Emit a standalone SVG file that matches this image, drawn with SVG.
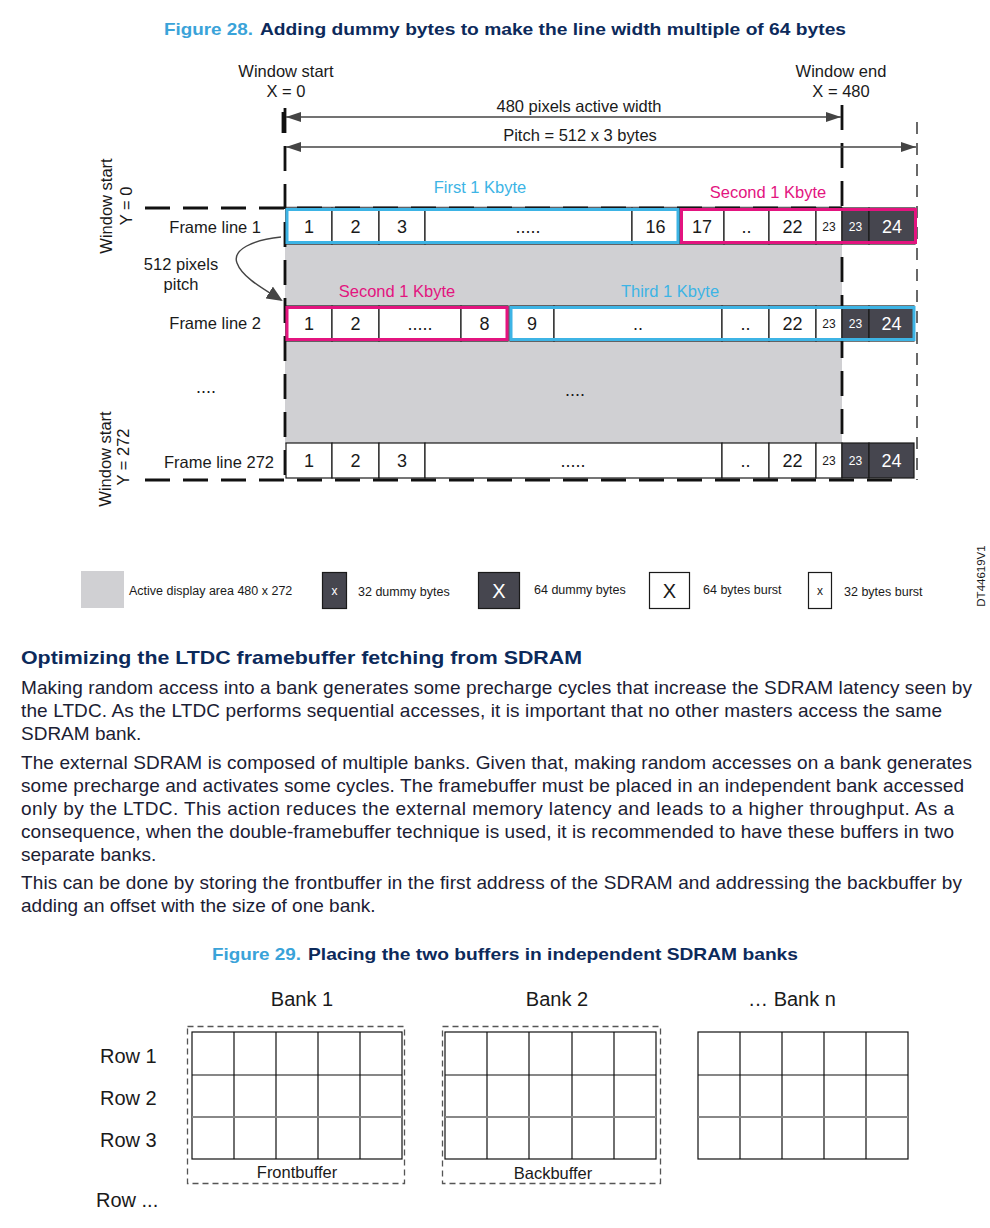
<svg xmlns="http://www.w3.org/2000/svg" width="990" height="1228" viewBox="0 0 990 1228">
<defs>
<style>
text{font-family:"Liberation Sans",Arial,sans-serif;fill:#1a1a1a}
.lbl{font-size:16.5px}
.mid{text-anchor:middle}
.end{text-anchor:end}
.num{font-size:18px;text-anchor:middle}
.sm{font-size:12px;text-anchor:middle}
.w{fill:#fff}
.cell{fill:#fff;stroke:#1a1a1a;stroke-width:1.2}
.dark{fill:#46464f;stroke:#1a1a1a;stroke-width:1.2}
.blue{fill:none;stroke:#3db4e5;stroke-width:3}
.pink{fill:none;stroke:#e3147f;stroke-width:3}
.tb{fill:#3db4e5;font-size:16.5px;text-anchor:middle}
.tp{fill:#e3147f;font-size:16.5px;text-anchor:middle}
.dash{stroke:#111;stroke-width:2.8;stroke-dasharray:25 13;fill:none}
.thin{stroke:#444;stroke-width:1.6;stroke-dasharray:12 9;fill:none}
.arr{stroke:#444;stroke-width:1.4;fill:none}
.leg{font-size:12.5px}
.ftb{font-weight:bold;font-size:17px;fill:#3aa3d9}
.ftn{font-weight:bold;font-size:17px;fill:#0c2a5b}
.par{font-size:19px;fill:#1b2033}
.hd{font-size:19px;font-weight:bold;fill:#0c2a5b}
.grid{fill:#fff;stroke:#111;stroke-width:1.2}
.gl{stroke:#111;stroke-width:1.2}
.bdash{fill:none;stroke:#555;stroke-width:1.3;stroke-dasharray:6 4}
.big{font-size:20px}
</style>
<marker id="ah" viewBox="0 0 15 10" refX="15" refY="5" markerWidth="15" markerHeight="10" markerUnits="userSpaceOnUse" orient="auto-start-reverse"><path d="M0,0 L15,5 L0,10 z" fill="#444"/></marker>
<marker id="ahc" viewBox="0 0 16 14" refX="14" refY="7" markerWidth="16" markerHeight="14" markerUnits="userSpaceOnUse" orient="auto"><path d="M0,0 L16,7 L0,14 z" fill="#444"/></marker>
</defs>
<rect width="990" height="1228" fill="#fff"/>

<g id="fig28-title">
<text x="164" y="35" class="ftb" textLength="89" lengthAdjust="spacingAndGlyphs">Figure 28.</text>
<text x="260" y="35" class="ftn" textLength="586" lengthAdjust="spacingAndGlyphs">Adding dummy bytes to make the line width multiple of 64 bytes</text>
</g>

<g id="active-area">
<rect x="285" y="206" width="557" height="238" fill="#d0d0d3"/>
</g>

<g id="labels-top">
<text x="286" y="77" class="lbl mid">Window start</text>
<text x="286" y="97" class="lbl mid">X = 0</text>
<text x="841" y="77" class="lbl mid">Window end</text>
<text x="841" y="97" class="lbl mid">X = 480</text>
<text x="579" y="112" class="lbl mid">480 pixels active width</text>
<text x="580" y="141" class="lbl mid">Pitch = 512 x 3 bytes</text>
<text transform="translate(112,206) rotate(-90)" class="lbl mid">Window start</text>
<text transform="translate(132,206) rotate(-90)" class="lbl mid">Y = 0</text>
<text transform="translate(111,459) rotate(-90)" class="lbl mid">Window start</text>
<text transform="translate(129,457) rotate(-90)" class="lbl mid">Y = 272</text>
<text x="261" y="233" class="lbl end">Frame line 1</text>
<text x="261" y="329" class="lbl end">Frame line 2</text>
<text x="274" y="468" class="lbl end">Frame line 272</text>
<text x="181" y="270" class="lbl mid">512 pixels</text>
<text x="181" y="290" class="lbl mid">pitch</text>
<text x="206" y="393" class="num">....</text>
<text x="575" y="396" class="num">....</text>
</g>

<g id="connectors">
<path class="dash" d="M285,108 V480"/>
<path class="dash" d="M842,105 V480"/>
<path class="thin" d="M917,122 V480"/>
<path class="dash" d="M145,208 H842"/>
<path class="dash" d="M145,480 H905"/>
<path class="arr" d="M286,117 H841" marker-start="url(#ah)" marker-end="url(#ah)"/>
<path class="arr" d="M286,147 H916" marker-start="url(#ah)" marker-end="url(#ah)"/>
<path d="M283,112 V133" stroke="#111" stroke-width="2.8"/>
<path class="arr" stroke-width="2" d="M281,237 C252,240 232,250 237,263 C242,277 262,288 281,300" marker-end="url(#ahc)"/>
</g>

<g id="frame-line-1">
<rect x="286" y="208" width="46" height="36" class="cell"/>
<rect x="332" y="208" width="47" height="36" class="cell"/>
<rect x="379" y="208" width="46" height="36" class="cell"/>
<rect x="425" y="208" width="207" height="36" class="cell"/>
<rect x="632" y="208" width="47" height="36" class="cell"/>
<rect x="680" y="208" width="44" height="36" class="cell"/>
<rect x="724" y="208" width="45" height="36" class="cell"/>
<rect x="769" y="208" width="47" height="36" class="cell"/>
<rect x="816" y="208" width="26" height="36" class="cell"/>
<rect x="842" y="208" width="27" height="36" class="dark"/>
<rect x="869" y="208" width="46" height="36" class="dark"/>
<rect x="287" y="209.5" width="391" height="33" class="blue"/>
<rect x="681.5" y="209.5" width="234" height="33" class="pink"/>
<text x="309" y="233" class="num">1</text>
<text x="355.5" y="233" class="num">2</text>
<text x="402" y="233" class="num">3</text>
<text x="528" y="233" class="num">.....</text>
<text x="655.5" y="233" class="num">16</text>
<text x="702" y="233" class="num">17</text>
<text x="746.5" y="233" class="num">..</text>
<text x="792.5" y="233" class="num">22</text>
<text x="829" y="231" class="sm">23</text>
<text x="855.5" y="231" class="sm w">23</text>
<text x="892" y="233" class="num w">24</text>
<text x="480" y="193" class="tb">First 1 Kbyte</text>
<text x="768" y="198" class="tp">Second 1 Kbyte</text>
</g>

<g id="frame-line-2">
<rect x="286" y="306" width="46" height="35" class="cell"/>
<rect x="332" y="306" width="47" height="35" class="cell"/>
<rect x="379" y="306" width="82" height="35" class="cell"/>
<rect x="461" y="306" width="47" height="35" class="cell"/>
<rect x="510" y="306" width="44" height="35" class="cell"/>
<rect x="554" y="306" width="168" height="35" class="cell"/>
<rect x="722" y="306" width="47" height="35" class="cell"/>
<rect x="769" y="306" width="47" height="35" class="cell"/>
<rect x="816" y="306" width="26" height="35" class="cell"/>
<rect x="842" y="306" width="27" height="35" class="dark"/>
<rect x="869" y="306" width="45" height="35" class="dark"/>
<rect x="287" y="307.5" width="220" height="32" class="pink"/>
<rect x="511" y="307.5" width="403" height="32" class="blue"/>
<text x="309" y="330" class="num">1</text>
<text x="355.5" y="330" class="num">2</text>
<text x="420" y="330" class="num">.....</text>
<text x="484.5" y="330" class="num">8</text>
<text x="532" y="330" class="num">9</text>
<text x="638" y="330" class="num">..</text>
<text x="745.5" y="330" class="num">..</text>
<text x="792.5" y="330" class="num">22</text>
<text x="829" y="328" class="sm">23</text>
<text x="855.5" y="328" class="sm w">23</text>
<text x="891.5" y="330" class="num w">24</text>
<text x="397" y="297" class="tp">Second 1 Kbyte</text>
<text x="670" y="297" class="tb">Third 1 Kbyte</text>
</g>

<g id="frame-line-272">
<rect x="286" y="443" width="46" height="35" class="cell"/>
<rect x="332" y="443" width="47" height="35" class="cell"/>
<rect x="379" y="443" width="46" height="35" class="cell"/>
<rect x="425" y="443" width="297" height="35" class="cell"/>
<rect x="722" y="443" width="47" height="35" class="cell"/>
<rect x="769" y="443" width="47" height="35" class="cell"/>
<rect x="816" y="443" width="26" height="35" class="cell"/>
<rect x="842" y="443" width="27" height="35" class="dark"/>
<rect x="869" y="443" width="45" height="35" class="dark"/>
<text x="309" y="467" class="num">1</text>
<text x="355.5" y="467" class="num">2</text>
<text x="402" y="467" class="num">3</text>
<text x="573" y="467" class="num">.....</text>
<text x="745.5" y="467" class="num">..</text>
<text x="792.5" y="467" class="num">22</text>
<text x="829" y="465" class="sm">23</text>
<text x="855.5" y="465" class="sm w">23</text>
<text x="891.5" y="467" class="num w">24</text>
</g>

<g id="legend">
<rect x="81" y="571" width="43" height="37" fill="#d0d0d3"/>
<text x="129" y="595" class="leg">Active display area 480 x 272</text>
<rect x="322.5" y="572.5" width="24" height="36" class="dark"/>
<text x="334.5" y="595" class="sm w">x</text>
<text x="358" y="596" class="leg">32 dummy bytes</text>
<rect x="478.5" y="572.5" width="41" height="36" class="dark"/>
<text x="499" y="598" class="w mid" font-size="20">X</text>
<text x="534" y="594" class="leg">64 dummy bytes</text>
<rect x="649.5" y="572.5" width="40" height="36" class="cell"/>
<text x="669.5" y="598" class="mid" font-size="20">X</text>
<text x="703" y="594" class="leg">64 bytes burst</text>
<rect x="808.5" y="572.5" width="23" height="36" class="cell"/>
<text x="820" y="595" class="sm">x</text>
<text x="844" y="596" class="leg">32 bytes burst</text>
<text transform="translate(985,576) rotate(-90)" class="mid" font-size="11.5">DT44619V1</text>
</g>

<g id="text-section">
<text x="21" y="664" class="hd" textLength="561" lengthAdjust="spacingAndGlyphs">Optimizing the LTDC framebuffer fetching from SDRAM</text>
<text x="21" y="694" class="par" textLength="951">Making random access into a bank generates some precharge cycles that increase the SDRAM latency seen by</text>
<text x="21" y="717" class="par" textLength="921">the LTDC. As the LTDC performs sequential accesses, it is important that no other masters access the same</text>
<text x="21" y="740" class="par">SDRAM bank.</text>
<text x="21" y="769" class="par" textLength="951">The external SDRAM is composed of multiple banks. Given that, making random accesses on a bank generates</text>
<text x="21" y="792" class="par" textLength="943">some precharge and activates some cycles. The framebuffer must be placed in an independent bank accessed</text>
<text x="21" y="815" class="par" textLength="933">only by the LTDC. This action reduces the external memory latency and leads to a higher throughput. As a</text>
<text x="21" y="838" class="par" textLength="933">consequence, when the double-framebuffer technique is used, it is recommended to have these buffers in two</text>
<text x="21" y="861" class="par">separate banks.</text>
<text x="21" y="889" class="par" textLength="941">This can be done by storing the frontbuffer in the first address of the SDRAM and addressing the backbuffer by</text>
<text x="21" y="912" class="par">adding an offset with the size of one bank.</text>
</g>

<g id="fig29-title">
<text x="212" y="960" class="ftb" textLength="89" lengthAdjust="spacingAndGlyphs">Figure 29.</text>
<text x="308" y="960" class="ftn" textLength="490" lengthAdjust="spacingAndGlyphs">Placing the two buffers in independent SDRAM banks</text>
</g>

<g id="row-labels">
<text x="100" y="1063" class="big">Row 1</text>
<text x="100" y="1105" class="big">Row 2</text>
<text x="100" y="1147" class="big">Row 3</text>
<text x="96" y="1207" class="big">Row ...</text>
</g>

<g id="bank-1">
<text x="302" y="1006" class="big mid">Bank 1</text>
<rect x="187.5" y="1026.5" width="217" height="157" class="bdash"/>
<rect x="192" y="1032" width="210" height="127" class="grid"/>
<path class="gl" d="M234,1032V1159M276,1032V1159M318,1032V1159M360,1032V1159M192,1075H402"/>
<path d="M192,1117H402" stroke="#888" stroke-width="2"/>
<text x="297" y="1178" class="mid" font-size="16.5">Frontbuffer</text>
</g>

<g id="bank-2">
<text x="557" y="1006" class="big mid">Bank 2</text>
<rect x="442.5" y="1026.5" width="218" height="157" class="bdash"/>
<rect x="445" y="1032" width="211" height="127" class="grid"/>
<path class="gl" d="M487,1032V1159M529,1032V1159M572,1032V1159M614,1032V1159M445,1075H656"/>
<path d="M445,1117H656" stroke="#888" stroke-width="2"/>
<text x="553" y="1179" class="mid" font-size="16.5">Backbuffer</text>
</g>

<g id="bank-n">
<text x="792" y="1006" class="big mid">… Bank n</text>
<rect x="698" y="1032" width="210" height="127" class="grid"/>
<path class="gl" d="M740,1032V1159M782,1032V1159M824,1032V1159M866,1032V1159M698,1075H908"/>
<path d="M698,1117H908" stroke="#888" stroke-width="2"/>
</g>
</svg>
